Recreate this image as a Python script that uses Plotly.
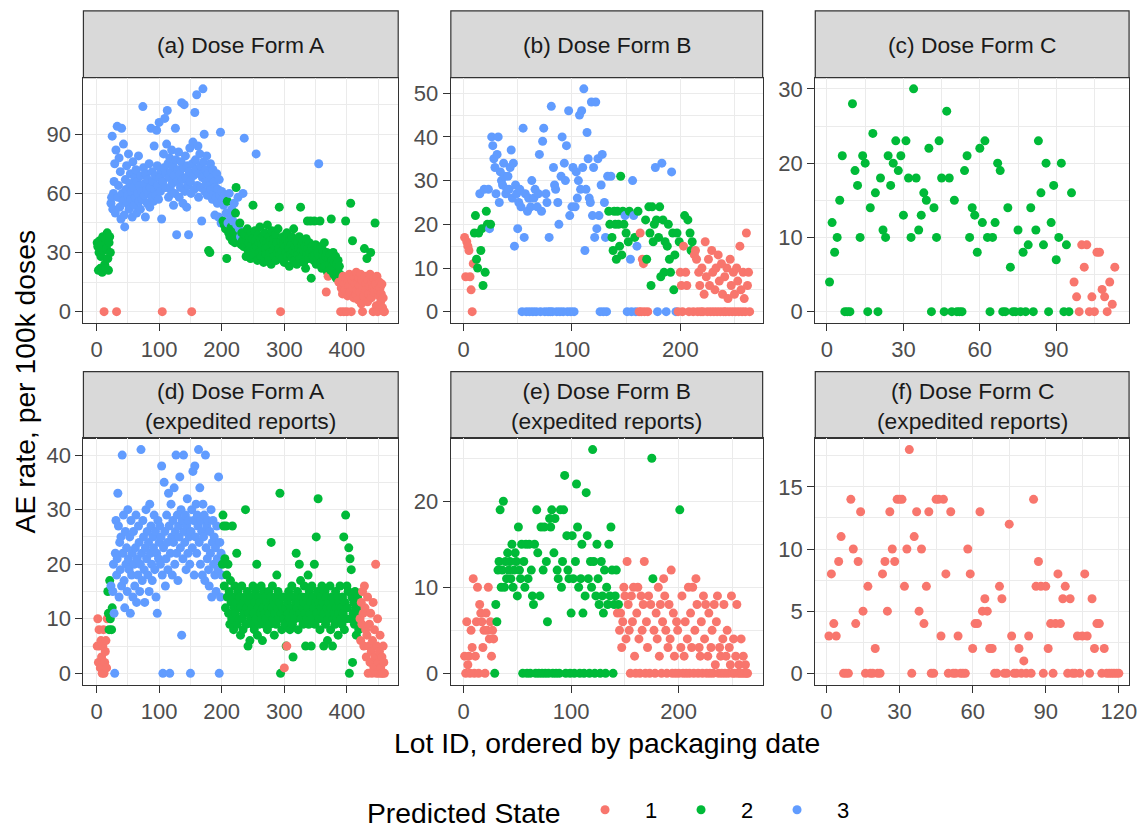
import plotly.graph_objects as go

# ---------------- data (AE rate per lot, lots ordered by packaging date) ----------------
rate_a = [
    35,33,21,30,36,22,28,34,20,38, 31,0,24,37,22,32,40,27,21,35, 38,30,55,58,89,52,60,66,75,50,
    82,0,94,58,64,78,53,71,47,93, 60,56,85,49,43,67,62,74,55,59, 80,52,65,70,57,61,48,76,63,54,
    68,58,72,50,66,60,79,56,64,52, 69,61,57,104,73,59,65,48,70,62, 55,67,60,75,53,63,93,58,71,66,
    56,84,62,69,59,92,74,64,57,96, 68,61,72,47,0,66,80,73,98,63, 70,85,102,75,58,68,78,62,71,82,
    65,74,54,69,60,93,77,39,66,72, 81,58,70,63,76,106,67,55,73,105, 61,79,68,53,74,64,39,71,83,66,
    60,0,75,86,69,62,101,77,72,110, 64,84,58,70,80,74,63,46,68,113, 76,90,61,72,66,79,59,70,31,64,
    30,75,62,68,57,72,60,66,49,63, 58,70,55,62,48,67,59,91,45,61, 57,46,54,44,59,42,50,27,56,45,
    40,60,38,48,43,52,36,46,41,55, 35,50,63,44,39,58,37,42,45,38, 34,40,36,60,33,88,39,33,28,36,
    42,31,35,38,30,27,40,34,37,54, 29,32,41,36,80,33,26,39,35,30, 43,37,28,34,31,38,25,36,40,32,
    29,35,44,33,27,38,30,36,24,41, 34,31,37,28,33,39,26,35,30,42, 32,53,29,0,36,31,27,38,34,25,
    33,37,30,40,28,35,32,23,36,29, 34,38,27,31,42,26,33,30,36,24, 35,29,32,38,27,53,31,34,28,36,
    25,30,33,22,37,29,46,32,27,35, 30,46,17,33,28,31,26,46,29,34, 24,32,27,30,75,28,46,25,33,22,
    29,31,26,35,23,28,10,30,20,18, 27,24,29,21,47,26,23,30,19,25, 22,28,17,24,20,26,15,23,19,0,
    12,16,9,18,0,14,11,46,17,0, 8,15,13,19,10,55,0,16,36,12, 7,18,14,9,20,11,15,6,17,13,
    10,19,4,16,0,12,8,32,18,14, 11,27,5,16,9,13,19,30,7,15, 12,0,17,10,45,14,3,18,0,11,
    8,15,12,5,9,14,2,7,0,0,
]
state_a = """
2222222222 2122222222 2233333333 3133333333 3333333333 3333333333 3333333333 3333333333
3333333333 3333333333 3333133333 3333333333 3333333333 3333333333 3333333333 3133333333
3333333333 3333333323 2333333333 3333333333 3232323223 2323232323 2223232323 2223232222
2222222222 2222322222 2222222222 2222222222 2222222222 2221222222 2222222222 2222222222
2222222222 2222222222 2222222222 2222322222 2222221221 2222222222 2222221221 1111111211
1111121121 1111111111 1111111211 1211111211 1111211111 1111111111
"""

rate_b = [
    17,8,16,15,14,8,5,0,11,18, 22,12,10,18,27,14,19,6,28,9, 23,20,28,19,20,40,38,35,33,27,
    36,40,25,32,30,29,34,31,27,28, 31,28,33,37,26,34,15,29,27,19, 25,28,24,0,42,17,27,0,23,26,
    0,24,30,0,26,28,0,24,27,36, 0,23,39,42,0,27,25,0,17,0, 47,0,33,29,28,0,25,20,0,31,
    40,0,34,30,38,0,46,22,0,24, 33,0,24,32,26,30,45,28,46,33, 51,14,28,41,35,26,25,48,22,33,
    17,48,19,35,22,0,29,36,0,25, 17,0,31,23,20,31,17,14,23,20, 12,23,20,15,31,13,23,20,22,18,
    0,16,23,12,0,30,22,17,0,15, 23,0,18,0,12,11,0,21,12,0, 24,18,6,24,16,20,33,21,0,17,
    24,8,34,21,9,16,0,15,20,12, 9,32,18,5,13,0,18,0,16,9, 6,0,15,22,9,6,21,0,18,14,
    16,0,13,14,12,0,9,6,0,10, 0,4,16,8,0,12,6,0,14,9, 0,5,10,0,13,7,0,11,4,0,
    8,0,10,3,0,12,6,0,9,4, 0,10,7,0,15,5,0,9,3,0, 18,6,9,0,
]
state_b = """
1111111112 2222322232 2233233333 3333333333 3333333333 3333333333 3333333333 3333333333
3333333333 3333333333 3333333333 3333333333 3333333333 3332232222 2222222232 3223333233
2111111221 2222223232 2232223222 2322232121 1112112122 2111111111 1111111111 1111111111
1111111111 1111111111 1111
"""

rate_c = [
    4,12,8,10,15,21,0,0,0,28, 19,17,10,21,20,0,14,24,16,0, 18,11,10,21,17,20,23,19,21,13,
    23,18,10,30,18,11,13,16,15,22, 0,14,10,23,18,0,27,18,0,15, 0,0,0,19,21,10,14,13,8,22,
    12,23,10,0,10,12,20,19,0,0, 14,6,0,0,11,0,8,0,9,14, 0,11,23,16,9,20,0,12,17,7,
    10,20,0,9,0,16,4,2,0,9, 6,9,0,2,0,8,8,3,2,0, 4,1,6,
]
state_c = """
2222222222 2222222222 2222222222 2222222222 2222222222 2222222222 2222222222 2222222222
2222222222 2222221111 1111111111 111
"""

rate_d = [
    5,10,2,8,5,1,6,3,0,5, 8,0,2,4,6,1,10,15,11,8, 17,10,16,8,12,15,20,11,0,22,
    28,18,21,33,27,14,24,19,25,16, 40,22,29,17,12,26,20,23,15,30, 21,19,25,11,28,18,22,14,26,20,
    16,23,29,13,21,18,27,24,15,20, 41,22,17,28,25,19,13,23,30,21, 26,18,24,15,31,22,27,20,17,25,
    23,29,19,26,14,22,11,28,21,24, 27,20,25,38,18,0,23,35,26,16, 21,29,24,19,33,27,0,22,31,25,
    18,28,24,34,20,26,40,22,29,17, 27,25,36,23,30,7,28,21,40,26, 24,29,19,27,32,22,28,25,20,0,
    26,30,23,37,28,18,38,25,31,22, 29,27,41,24,34,20,28,26,18,31, 25,29,17,40,23,27,21,28,19,16,
    26,22,30,14,24,28,20,25,18,23, 15,27,21,19,36,0,24,14,22,18, 20,29,27,16,21,12,27,18,14,20,
    11,15,9,17,13,10,27,14,8,12, 16,11,13,22,9,15,12,10,14,7, 12,16,10,8,13,11,14,30,9,12,
    15,5,11,13,6,10,14,12,9,16, 11,8,13,15,10,20,7,12,14,9, 13,11,16,10,6,12,15,9,11,14,
    10,13,8,12,15,11,9,14,24,12, 16,10,13,7,11,14,9,18,12,15, 10,13,33,0,11,8,12,14,10,1,
    9,12,5,5,13,11,15,10,8,14, 12,16,9,3,11,14,10,13,22,12, 15,8,13,20,11,17,10,14,12,9,
    13,16,11,5,14,10,12,18,9,15, 11,13,5,16,10,14,12,20,9,13, 25,11,15,32,10,13,8,14,12,16,
    10,13,5,11,15,9,14,12,6,10, 13,11,16,8,12,14,5,10,13,11, 9,15,12,10,14,7,11,13,16,10,
    12,9,14,11,25,8,13,29,10,16, 12,15,23,0,21,10,19,14,2,11, 13,9,15,12,7,10,14,11,8,12,
    10,6,13,9,15,11,5,16,12,8, 3,7,14,0,5,9,2,11,4,0, 6,13,1,8,3,20,0,5,10,2,
    0,4,7,1,0,3,0,5,2,0,
]
state_d = """
1111111111 1111111222 2232233333 3333333333 3333333333 3333333333 3333333333 3333333333
3333333333 3333333333 3333333333 3333333333 3333333333 3333333333 3333333333 3333333333
3333333333 3333333333 3333333333 3333333333 2222222222 2222222222 2222222222 2222222222
2222222222 2222222222 2222222222 2222222222 2222222222 2222222221 2221222222 2222222222
2222222222 2222222222 2222222222 2222222222 2222222222 2222222222 2222222222 2222222222
2222222222 2222222222 1111111111 1111111111 1111111111 1111111111
"""

rate_e = [
    2,0,6,1,2,0,5,3,11,0, 2,6,10,0,8,7,6,3,5,0, 7,5,10,4,6,2,5,4,0,8,
    6,12,13,19,10,12,20,10,13,11, 14,12,13,11,15,10,12,14,13,9, 17,12,11,15,0,13,10,15,0,11,
    15,0,12,9,8,15,0,19,14,0, 9,17,0,12,17,0,13,6,0,18, 17,19,0,14,18,0,12,11,0,19,
    10,13,19,23,0,16,12,11,0,7, 16,11,0,13,22,17,10,0,11,15, 7,0,9,21,16,11,0,13,10,26,
    13,0,9,15,11,8,0,13,9,7, 12,0,10,8,15,9,17,12,0,8, 9,12,7,8,5,7,3,6,10,9,
    4,13,8,5,0,9,6,10,2,0, 7,10,4,0,9,5,8,13,0,6, 3,9,0,8,25,11,5,0,7,4,
    10,2,8,0,6,11,9,5,0,3, 8,4,12,0,7,2,0,6,5,0, 19,3,9,0,2,6,0,4,10,0,
    7,3,10,0,5,11,8,0,3,2, 6,0,9,4,8,0,2,7,0,3, 5,0,8,1,6,9,0,3,2,0,
    4,8,0,2,5,0,3,1,9,0, 4,0,2,8,0,1,0,4,0,2, 0,1,0,0,
]
state_e = """
1111111111 1111111111 1111111122 2222222222 2222222222 2222222222 2222222222 2222222222
2222222222 2222222222 2222222222 2222222222 2222222222 2222222222 2212111111 1111111111
1111111111 1111221111 1111111111 1111111111 2111111111 1111111111 1111111111 1111111111
1111111111 1111111111 1111
"""

rate_f = [
    3,8,4,3,9,11,0,0,0,14, 10,4,9,13,5,0,7,0,0,2, 0,0,8,9,5,13,10,9,14,14,
    14,7,10,18,0,11,13,5,10,4, 7,13,0,0,14,14,3,14,8,0, 13,0,0,3,0,0,0,10,8,2,
    4,4,13,5,6,5,2,2,0,0, 7,6,0,0,12,3,0,0,2,0, 1,0,3,0,14,7,9,7,0,7,
    2,4,0,4,8,4,6,7,0,6, 0,0,3,0,3,8,3,0,6,2, 4,4,0,2,0,0,0,0,0,0,
]
state_f = """
1111111111 1111111111 1111111111 1111111111 1111111111 1111111111
1111111111 1111111111 1111111111 1111111111 1111111111 1111111111
"""

state_names = ["1", "2", "3"]
state_colors = ["#F8766D", "#00BA38", "#619CFF"]

x_title = "Lot ID, ordered by packaging date"
y_title = "AE rate, per 100k doses"
legend_title = "Predicted State"

# ---------------- layout geometry (pixels) ----------------
W, H = 1148, 833
COLS = [(84, 401), (454, 768), (821, 1137)]
ROWS = [((10, 77), (77, 323)), ((372, 439), (439, 686))]
FONT = "Liberation Sans, Arial, Helvetica, sans-serif"
TICK_SIZE = 22
STRIP_SIZE = 22.8
TITLE_SIZE = 28.3


def px_x(p):
    return p / W


def px_y(p):
    return 1 - p / H


def parse_states(s, n):
    st = [c for c in s if c in "123"]
    if len(st) < n:
        st += [st[-1]] * (n - len(st))
    return st[:n]


panels = [
    dict(title="(a) Dose Form A", rate=rate_a, state=state_a, col=0, row=0,
         xr=[-21, 482], xd=100, yr=[-5.65, 118.65], yd=30),
    dict(title="(b) Dose Form B", rate=rate_b, state=state_b, col=1, row=0,
         xr=[-11.7, 276], xd=100, yr=[-2.55, 53.55], yd=10),
    dict(title="(c) Dose Form C", rate=rate_c, state=state_c, col=2, row=0,
         xr=[-4.6, 118.6], xd=30, yr=[-1.5, 31.5], yd=10),
    dict(title="(d) Dose Form A<br>(expedited reports)", rate=rate_d, state=state_d, col=0, row=1,
         xr=[-21, 482], xd=100, yr=[-2.05, 43.05], yd=10),
    dict(title="(e) Dose Form B<br>(expedited reports)", rate=rate_e, state=state_e, col=1, row=1,
         xr=[-11.8, 278], xd=100, yr=[-1.3, 27.3], yd=10),
    dict(title="(f) Dose Form C<br>(expedited reports)", rate=rate_f, state=state_f, col=2, row=1,
         xr=[-4.6, 124.2], xd=30, yr=[-0.9, 18.9], yd=5),
]

fig = go.Figure()
layout_axes = {}
shapes = []
annotations = []
cmap = dict(zip(state_names, state_colors))

for i, p in enumerate(panels, start=1):
    sfx = "" if i == 1 else str(i)
    n = len(p["rate"])
    lots = list(range(1, n + 1))
    st = parse_states(p["state"], n)
    fig.add_trace(go.Scatter(
        x=lots, y=p["rate"], mode="markers",
        marker=dict(color=[cmap[s] for s in st], size=9, line=dict(width=0)),
        xaxis="x" + sfx, yaxis="y" + sfx, showlegend=False, hoverinfo="skip"))

    cx0, cx1 = COLS[p["col"]]
    (sy0, sy1), (py0, py1) = ROWS[p["row"]]
    grid = dict(showgrid=True, gridcolor="#EBEBEB", gridwidth=1.4, zeroline=False,
                showline=True, mirror=True, linecolor="#333333", linewidth=1.2,
                ticks="outside", ticklen=7, tickwidth=1.2, tickcolor="#333333",
                tickfont=dict(family=FONT, size=TICK_SIZE, color="#4D4D4D"),
                tickmode="linear", tick0=0, fixedrange=True)
    layout_axes["xaxis" + sfx] = dict(
        grid, domain=[px_x(cx0), px_x(cx1)], range=p["xr"], dtick=p["xd"],
        anchor="y" + sfx,
        minor=dict(dtick=p["xd"] / 2, tick0=0, showgrid=True, gridcolor="#EBEBEB", gridwidth=0.7, ticks=""))
    layout_axes["yaxis" + sfx] = dict(
        grid, domain=[px_y(py1), px_y(py0)], range=p["yr"], dtick=p["yd"],
        anchor="x" + sfx,
        minor=dict(dtick=p["yd"] / 2, tick0=0, showgrid=True, gridcolor="#EBEBEB", gridwidth=0.7, ticks=""))

    # facet strip
    shapes.append(dict(type="rect", xref="paper", yref="paper",
                       x0=px_x(cx0), x1=px_x(cx1), y0=px_y(sy1), y1=px_y(sy0),
                       fillcolor="#D9D9D9", line=dict(color="#333333", width=1.2), layer="below"))
    annotations.append(dict(text=p["title"], x=px_x((cx0 + cx1) / 2),
                            y=px_y((sy0 + sy1) / 2 + 0.5),
                            xref="paper", yref="paper", showarrow=False,
                            xanchor="center", yanchor="middle", align="center",
                            font=dict(family=FONT, size=STRIP_SIZE, color="#1A1A1A")))

# axis titles
annotations.append(dict(text=x_title, x=px_x(611), y=px_y(745), xref="paper", yref="paper",
                        showarrow=False, xanchor="center", yanchor="middle",
                        font=dict(family=FONT, size=TITLE_SIZE, color="#000000")))
annotations.append(dict(text=y_title, x=px_x(25), y=px_y(382), xref="paper", yref="paper",
                        showarrow=False, xanchor="center", yanchor="middle", textangle=-90,
                        font=dict(family=FONT, size=TITLE_SIZE, color="#000000")))
# legend title
annotations.append(dict(text=legend_title, x=px_x(466.5), y=px_y(814.5), xref="paper", yref="paper",
                        showarrow=False, xanchor="center", yanchor="middle",
                        font=dict(family=FONT, size=TITLE_SIZE, color="#000000")))

# legend entries
for name, col in zip(state_names, state_colors):
    fig.add_trace(go.Scatter(x=[None], y=[None], mode="markers", name=name,
                             marker=dict(color=col, size=9), xaxis="x", yaxis="y",
                             showlegend=True, hoverinfo="skip"))

fig.update_layout(
    width=W, height=H, margin=dict(l=0, r=0, t=0, b=0),
    paper_bgcolor="white", plot_bgcolor="white",
    font=dict(family=FONT, color="#000000"),
    shapes=shapes, annotations=annotations,
    showlegend=True,
    legend=dict(orientation="h", x=px_x(569), xanchor="left", y=0, yanchor="bottom",
                bgcolor="rgba(0,0,0,0)",
                font=dict(family=FONT, size=TICK_SIZE, color="#000000"),
                itemwidth=70, entrywidth=11, entrywidthmode="pixels", itemsizing="trace"),
    **layout_axes,
)

fig.write_html("out.html", include_plotlyjs=True, config={"displayModeBar": False})
